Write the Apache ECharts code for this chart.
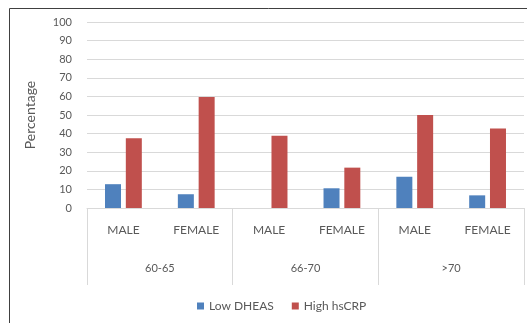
<!DOCTYPE html>
<html><head><meta charset="utf-8">
<script src="https://cdn.jsdelivr.net/npm/echarts@6/dist/echarts.min.js"></script>
<style>html,body{margin:0;padding:0;background:#fff}#c{width:527px;height:323px}</style>
</head><body><div id="c"></div>
<script>
const subCategories = ['MALE','FEMALE','MALE','FEMALE','MALE','FEMALE'];
const groups = ['60-65','66-70','>70'];
const lowDHEAS = [12.8, 7.4, 0, 10.6, 16.8, 6.8];
const highHsCRP = [37.5, 59.7, 38.9, 21.7, 50, 42.8];
const yTicks = [0,10,20,30,40,50,60,70,80,90,100];

const font = 'Lato, "Open Sans", sans-serif';
const txt = '#595959';
const chart = echarts.init(document.getElementById('c'));
chart.setOption({
  animation:false,
  textStyle:{fontFamily:font},
  graphic:[{type:'rect',shape:{x:9.5,y:8.5,width:540,height:340},style:{fill:'none',stroke:'#404040',lineWidth:1},z:-1}],
  grid:{left:87,right:3,top:22,bottom:115},
  legend:{bottom:6,left:192,itemWidth:7,itemHeight:7,itemGap:18,icon:'rect',
    textStyle:{color:txt,fontSize:12,fontFamily:font},data:['Low DHEAS','High hsCRP']},
  xAxis:[
    {type:'category',data:subCategories,position:'bottom',
      axisLine:{lineStyle:{color:'#d9d9d9'}},axisTick:{show:false},
      axisLabel:{color:txt,fontSize:12,margin:16,fontFamily:font}},
    {type:'category',data:groups,position:'bottom',offset:0,
      axisLine:{show:false},axisTick:{show:true,length:77,lineStyle:{color:'#d9d9d9'}},
      axisLabel:{color:txt,fontSize:11,margin:55,fontFamily:font}}
  ],
  yAxis:{type:'value',min:0,max:100,interval:10,name:'Percentage',nameLocation:'middle',nameGap:50,
    nameTextStyle:{color:txt,fontSize:14,fontFamily:font},
    axisLine:{show:false},axisTick:{show:false},
    axisLabel:{color:txt,fontSize:11,margin:15,fontFamily:font,formatter:v=>yTicks.includes(v)?String(v):''},
    splitLine:{lineStyle:{color:'#d9d9d9'}}},
  series:[
    {name:'Low DHEAS',type:'bar',xAxisIndex:0,data:lowDHEAS,barWidth:16,barGap:'30%',itemStyle:{color:'#4F81BD'}},
    {name:'High hsCRP',type:'bar',xAxisIndex:0,data:highHsCRP,barWidth:16,barGap:'30%',itemStyle:{color:'#C0504D'}}
  ]
});
</script></body></html>
